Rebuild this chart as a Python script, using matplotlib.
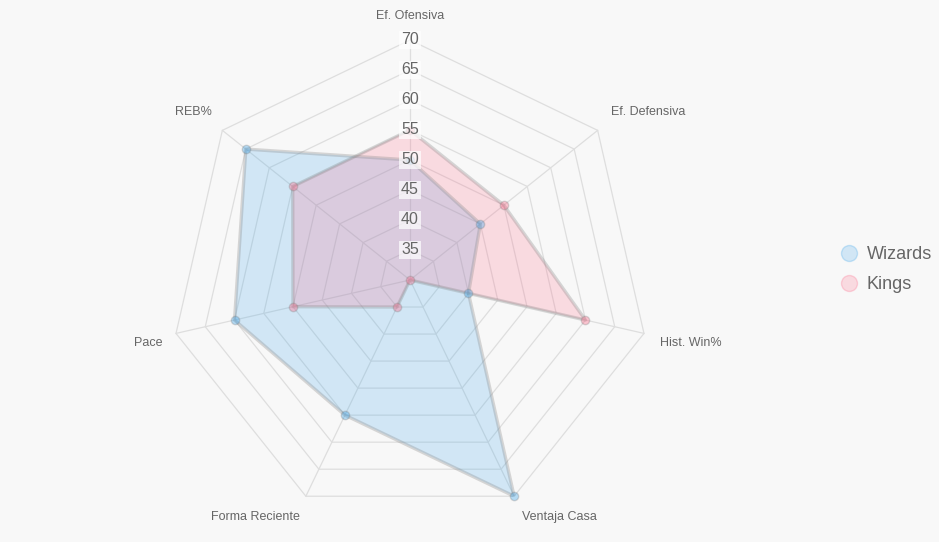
import matplotlib.pyplot as plt
import numpy as np

plt.rcParams['font.family'] = ['Liberation Sans', 'DejaVu Sans']

categories = ["Ef. Ofensiva", "Ef. Defensiva", "Hist. Win%", "Ventaja Casa",
              "Forma Reciente", "Pace", "REB%"]
wizards = [50, 45, 40, 70, 55, 60, 65]
kings = [55, 50, 60, 30, 35, 50, 55]
ticks = [35, 40, 45, 50, 55, 60, 65, 70]
r_min, r_max = 30, 70

bg = "#f8f8f8"
grid_color = "#dedede"
text_color = "#666666"

fig = plt.figure(figsize=(9.39, 5.42), dpi=100, facecolor=bg)
ax = fig.add_axes([170 / 939, 22 / 542, 480 / 939, 480 / 542], projection="polar")
ax.set_facecolor(bg)
ax.set_theta_offset(np.pi / 2)
ax.set_theta_direction(-1)
ax.set_ylim(r_min, r_max)
ax.grid(False)
ax.spines["polar"].set_visible(False)
ax.set_xticks([])
ax.set_yticks([])

n = len(categories)
angles = np.linspace(0, 2 * np.pi, n, endpoint=False)
closed = np.append(angles, angles[0])

# polygon rings and spokes
for t in ticks:
    ax.plot(closed, [t] * (n + 1), color=grid_color, lw=0.9, zorder=1, clip_on=False)
for a in angles:
    ax.plot([a, a], [r_min, r_max], color=grid_color, lw=0.9, zorder=1, clip_on=False)

# datasets
series = [("Wizards", wizards, (54 / 255, 162 / 255, 235 / 255)),
          ("Kings", kings, (255 / 255, 99 / 255, 132 / 255))]
handles = []
for name, vals, col in series:
    v = np.append(vals, vals[0])
    ax.fill(closed, v, color=col, alpha=0.2, zorder=2, lw=0)
    ax.plot(closed, v, color="#8a8a8a", alpha=0.32, lw=2.4, zorder=3)
    ax.plot(angles, vals, "o", ms=6, mfc=col + (0.35,), mec=(0.5, 0.5, 0.5, 0.3),
            mew=1, zorder=4, clip_on=False)
    h, = ax.plot([], [], "o", ms=11.5, mfc=col + (0.2,), mec=col + (0.25,), mew=1,
                 label=name)
    handles.append(h)

# radial tick labels
for t in ticks:
    ax.text(0, t, str(t), ha="center", va="center", fontsize=11.5, color=text_color,
            zorder=5, bbox=dict(boxstyle="square,pad=0.12", fc="white", ec="none", alpha=0.7))

# category labels
offsets = [(0, 24, "center"), (13, 18, "left"), (16, -10, "left"), (8, -21, "left"),
           (-6, -21, "right"), (-14, -10, "right"), (-10, 18, "right")]
for a, lab, (dx, dy, ha) in zip(angles, categories, offsets):
    ax.annotate(lab, xy=(a, r_max), xytext=(dx, dy), textcoords="offset pixels",
                ha=ha, va="center", fontsize=9, color=text_color, annotation_clip=False)

fig.legend(handles=handles, loc="center left", bbox_to_anchor=(0.875, 0.503),
           frameon=False, fontsize=13, labelcolor=text_color, handletextpad=0.4,
           labelspacing=0.72, handlelength=1.2)

fig.savefig("out.png", dpi=100, facecolor=bg)
